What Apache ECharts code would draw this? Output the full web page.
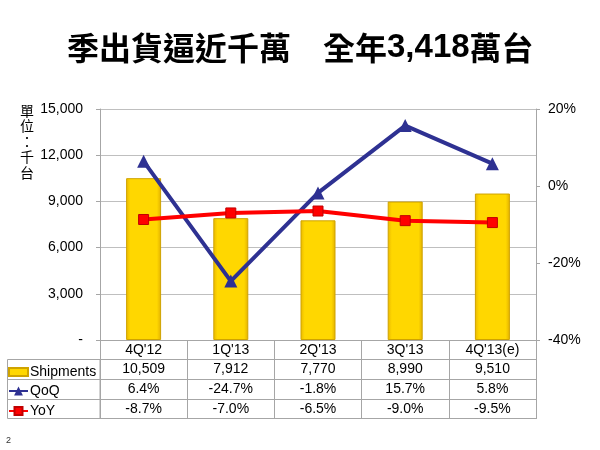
<!DOCTYPE html>
<html>
<head>
<meta charset="utf-8">
<script src="https://cdn.jsdelivr.net/npm/echarts@6/dist/echarts.min.js"></script>
<style>html,body{margin:0;padding:0;background:#fff}#c{width:600px;height:450px}</style>
</head>
<body>
<div id="c"></div>
<script>
var categories = ["4Q'12", "1Q'13", "2Q'13", "3Q'13", "4Q'13(e)"];
var shipments = [10509, 7912, 7770, 8990, 9510];
var qoq = [6.4, -24.7, -1.8, 15.7, 5.8];
var yoy = [-8.7, -7.0, -6.5, -9.0, -9.5];
var leftTicks = { min: 0, max: 15000, interval: 3000 };
var rightTicks = { min: -40, max: 20, interval: 20 };

var FONT = "'Liberation Sans', 'Noto Sans CJK TC', Arial, sans-serif";
var GRID_COLOR = '#BFBFBF';
var TABLE_COLOR = '#A6A6A6';

function fmtNum(v) { return v.toLocaleString('en-US'); }
function fmtPct(v) { return v.toFixed(1) + '%'; }

var chart = echarts.init(document.getElementById('c'));

var barColor = new echarts.graphic.LinearGradient(0, 0, 1, 0, [
  { offset: 0, color: '#E9B800' },
  { offset: 0.12, color: '#FFD700' },
  { offset: 0.88, color: '#FFD700' },
  { offset: 1, color: '#E2B000' }
]);

function rowAxis(offset, values, fmt, showLabel) {
  return {
    type: 'category',
    data: categories,
    position: 'bottom',
    offset: offset,
    gridIndex: 0,
    axisLine: { show: true, onZero: false, lineStyle: { color: TABLE_COLOR, width: 1 } },
    axisTick: { show: showLabel, length: 20, interval: 0, lineStyle: { color: TABLE_COLOR } },
    axisLabel: {
      show: showLabel,
      interval: 0,
      margin: 3,
      fontSize: 14,
      fontFamily: FONT,
      color: '#000',
      formatter: function (v, i) { return values ? fmt(values[i]) : v; }
    },
    splitLine: { show: false }
  };
}

function legendRow(name, top, w, h, icon) {
  var l = {
    data: [{ name: name }],
    left: 8,
    top: top,
    padding: 0,
    itemWidth: w,
    itemHeight: h,
    itemGap: 0,
    textStyle: { fontSize: 14, fontFamily: FONT, color: '#000', padding: [0, 0, 0, -3] },
    selectedMode: false
  };
  if (icon) l.data[0].icon = icon;
  return l;
}

var option = {
  animation: false,
  backgroundColor: '#fff',
  title: {
    text: '{a|季出貨逼近千萬　全年}{b|3,418}{a|萬台}',
    left: 62,
    top: 26,
    textStyle: {
      rich: {
        a: { fontSize: 32, fontWeight: 'bold', fontFamily: "'Noto Sans CJK TC', sans-serif", color: '#000' },
        b: { fontSize: 33, fontWeight: 'bold', fontFamily: "'Liberation Sans Narrow', 'Liberation Sans', Arial, sans-serif", color: '#000' }
      }
    }
  },
  grid: { left: 100, right: 64, top: 109, bottom: 110, containLabel: false },
  legend: [
    legendRow('Shipments', 365, 19, 8, 'rect'),
    legendRow('QoQ', 384, 19, 11),
    legendRow('YoY', 404, 19, 10)
  ],
  xAxis: [
    rowAxis(0, null, null, true),
    rowAxis(19, shipments, fmtNum, true),
    rowAxis(39, qoq, fmtPct, true),
    rowAxis(59, yoy, fmtPct, true),
    rowAxis(78, null, null, false)
  ],
  yAxis: [
    {
      type: 'value',
      min: leftTicks.min, max: leftTicks.max, interval: leftTicks.interval,
      position: 'left',
      axisLine: { show: true, lineStyle: { color: TABLE_COLOR } },
      axisTick: { show: true, length: 4, lineStyle: { color: TABLE_COLOR } },
      axisLabel: {
        margin: 17, fontSize: 14, fontFamily: FONT, color: '#000',
        formatter: function (v) { return v === 0 ? '-' : fmtNum(v); }
      },
      splitLine: { show: true, lineStyle: { color: GRID_COLOR, width: 1 } }
    },
    {
      type: 'value',
      min: rightTicks.min, max: rightTicks.max, interval: rightTicks.interval,
      position: 'right',
      axisLine: { show: true, lineStyle: { color: TABLE_COLOR } },
      axisTick: { show: true, length: 4, lineStyle: { color: TABLE_COLOR } },
      axisLabel: {
        margin: 12, fontSize: 14, fontFamily: FONT, color: '#000',
        formatter: function (v) { return v + '%'; }
      },
      splitLine: { show: false }
    }
  ],
  series: [
    {
      name: 'Shipments',
      type: 'bar',
      xAxisIndex: 0, yAxisIndex: 0,
      data: shipments,
      barWidth: 35,
      itemStyle: { color: barColor, borderColor: '#CFA300', borderWidth: 1 }
    },
    {
      name: 'QoQ',
      type: 'line',
      xAxisIndex: 0, yAxisIndex: 1,
      data: qoq,
      lineStyle: { color: '#2E3192', width: 4 },
      itemStyle: { color: '#2E3192' },
      symbol: 'triangle',
      symbolSize: 13,
      z: 3
    },
    {
      name: 'YoY',
      type: 'line',
      xAxisIndex: 0, yAxisIndex: 1,
      data: yoy,
      lineStyle: { color: '#FF0000', width: 4 },
      itemStyle: { color: '#FF0000', borderColor: '#C00000', borderWidth: 1 },
      symbol: 'rect',
      symbolSize: 10,
      z: 4
    }
  ],
  graphic: [
    {
      type: 'text', left: 20, top: 104,
      style: { text: '單\n位\n：\n千\n台', fontSize: 14, lineHeight: 15.5, fontFamily: FONT, fill: '#000' }
    },
    {
      type: 'rect', shape: { x: 7.5, y: 359.5, width: 92.5, height: 59 },
      style: { fill: 'none', stroke: TABLE_COLOR, lineWidth: 1 }, silent: true
    },
    {
      type: 'line', shape: { x1: 7.5, y1: 379.5, x2: 100, y2: 379.5 },
      style: { stroke: TABLE_COLOR, lineWidth: 1 }, silent: true
    },
    {
      type: 'line', shape: { x1: 7.5, y1: 399.5, x2: 100, y2: 399.5 },
      style: { stroke: TABLE_COLOR, lineWidth: 1 }, silent: true
    },
    {
      type: 'text', left: 6, top: 436,
      style: { text: '2', fontSize: 9, fontFamily: FONT, fill: '#333' }
    }
  ]
};
chart.setOption(option);
</script>
</body>
</html>
